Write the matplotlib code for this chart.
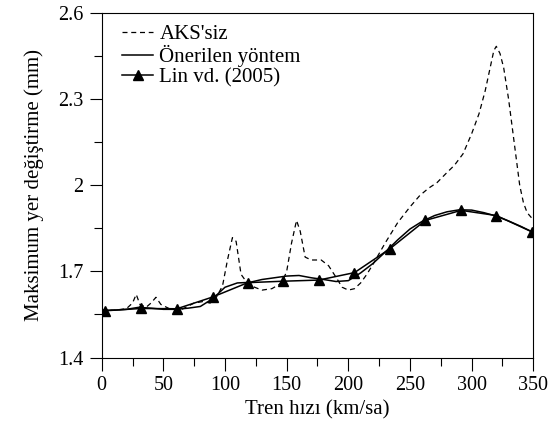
import matplotlib
matplotlib.use("Agg")
import matplotlib.pyplot as plt
from matplotlib.ticker import MultipleLocator, FuncFormatter

# AKS'siz (dashed)
aks_x = [0, 10, 20, 25, 28, 31, 36, 40, 44, 48, 55, 65, 75, 82, 88, 93, 98, 102, 106,
         109, 113, 118, 124, 130, 138, 146, 150, 154, 158, 161, 165, 170, 178, 184, 190,
         195, 200, 205, 210, 215, 220, 230, 240, 250, 258, 265, 272, 280, 286, 293, 300,
         306, 311, 315, 318, 320, 323, 326, 330, 333, 336, 339, 342, 345, 350]
aks_y = [1.565, 1.565, 1.57, 1.59, 1.62, 1.585, 1.575, 1.59, 1.61, 1.585, 1.57, 1.568,
         1.59, 1.595, 1.59, 1.61, 1.65, 1.74, 1.818, 1.805, 1.69, 1.66, 1.645, 1.635,
         1.64, 1.66, 1.70, 1.80, 1.878, 1.84, 1.75, 1.74, 1.74, 1.72, 1.68, 1.645, 1.635,
         1.64, 1.66, 1.69, 1.725, 1.80, 1.87, 1.925, 1.965, 1.99, 2.01, 2.045, 2.07, 2.11,
         2.18, 2.25, 2.33, 2.41, 2.47, 2.485, 2.46, 2.41, 2.30, 2.20, 2.10, 2.00, 1.94,
         1.905, 1.88]

# Önerilen yöntem (solid)
oner_x = [0, 10, 20, 30, 40, 50, 60, 70, 80, 90, 100, 110, 120, 130, 140, 150, 160, 170,
          180, 190, 200, 210, 220, 230, 240, 250, 260, 270, 280, 290, 300, 310, 320, 330,
          340, 350]
oner_y = [1.565, 1.565, 1.568, 1.575, 1.572, 1.568, 1.568, 1.572, 1.578, 1.605, 1.645,
          1.66, 1.662, 1.672, 1.678, 1.684, 1.686, 1.678, 1.672, 1.665, 1.668, 1.695,
          1.728, 1.768, 1.81, 1.848, 1.875, 1.895, 1.908, 1.915, 1.914, 1.905, 1.893,
          1.876, 1.857, 1.836]

# Lin vd. (2005)
lin_x = [3, 32, 61, 90, 118.5, 147, 176, 205, 234, 262.5, 291.5, 320, 349]
lin_y = [1.563, 1.571, 1.570, 1.611, 1.661, 1.666, 1.670, 1.696, 1.780, 1.878, 1.913,
         1.895, 1.838]

y_ticks = [1.4, 1.7, 2.0, 2.3, 2.6]
y_minor = [1.55, 1.85, 2.15, 2.45]

plt.rcParams['font.family'] = ['Liberation Serif', 'DejaVu Serif']

fig = plt.figure(figsize=(5.6, 4.41), dpi=100)
ax = fig.add_axes([0.1816, 0.1893, 0.9523 - 0.1816, 0.9698 - 0.1893])

ax.plot(aks_x, aks_y, color='black', lw=0.9, linestyle=(0, (4, 3)), label="AKS'siz")
ax.plot(oner_x, oner_y, color='black', lw=1.1, label='Önerilen yöntem')
ax.plot(lin_x, lin_y, color='black', lw=1.1, marker='^', markersize=6.5,
        label='Lin vd. (2005)')

ax.set_xlim(0, 350)
ax.set_ylim(1.4, 2.6)
ax.xaxis.set_major_locator(MultipleLocator(50))
ax.xaxis.set_minor_locator(MultipleLocator(25))
ax.set_yticks(y_ticks)
ax.set_yticks(y_minor, minor=True)
ax.yaxis.set_major_formatter(FuncFormatter(lambda v, p: f"{v:g}"))
ax.tick_params(which='major', direction='out', length=9, width=0.8, labelsize=14.5, pad=4)
ax.tick_params(which='minor', direction='out', length=5.5, width=0.8)
for s in ax.spines.values():
    s.set_linewidth(0.8)

ax.set_xlabel('Tren hızı (km/sa)', fontsize=15, labelpad=4)
ax.set_ylabel('Maksimum yer değiştirme (mm)', fontsize=15, labelpad=10)

ax.legend(loc='upper left', bbox_to_anchor=(0.047, 0.968), frameon=False, fontsize=15,
          handlelength=1.5, handletextpad=0.3, labelspacing=0.05, borderpad=0,
          borderaxespad=0)

fig.savefig('out.png', dpi=100)
